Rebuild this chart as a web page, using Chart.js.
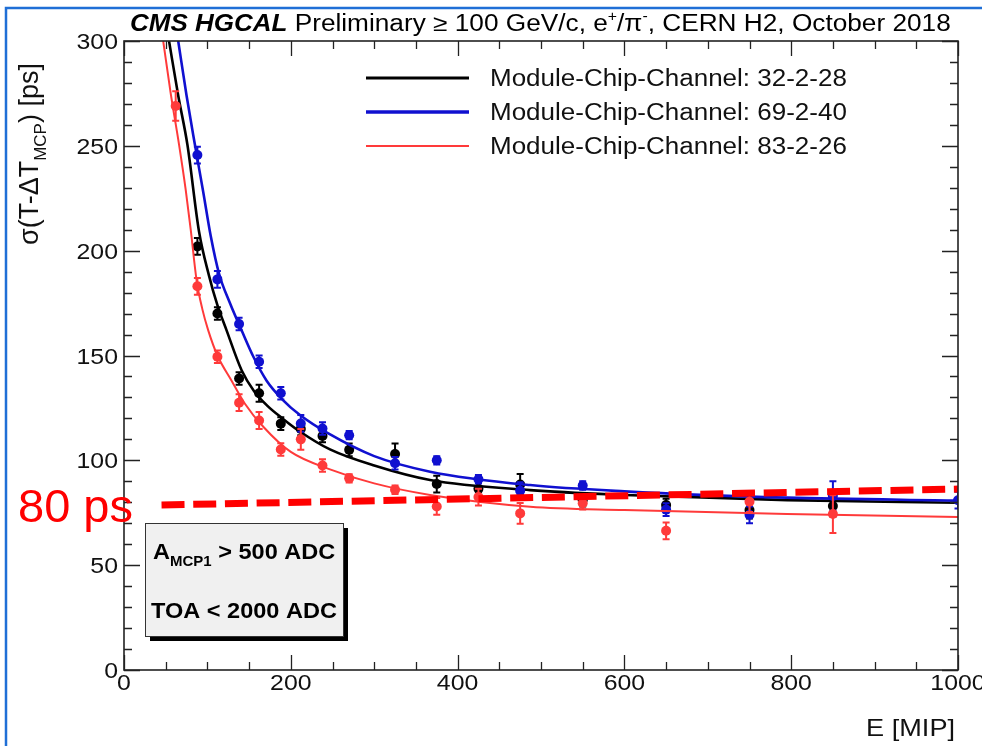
<!DOCTYPE html>
<html>
<head>
<meta charset="utf-8">
<script src="https://cdn.jsdelivr.net/npm/chart.js@4/dist/chart.umd.min.js"></script>
<style>
  html, body { margin: 0; padding: 0; background: #ffffff; overflow: hidden; }
  #wrap { width: 982px; height: 746px; position: relative; }
</style>
</head>
<body>
<div id="wrap"><canvas id="c" width="982" height="746"></canvas></div>
<script>
// Beam energy bins [MIP]
const energies = [62, 88, 112, 138, 162, 188, 212, 238, 270, 325, 375, 425, 475, 550, 650, 750, 850, 1000];

// Measured time resolution [ps] and uncertainties per channel
const sigma32_2_28 = [null, 202, 170, 139, 132, 117.5, 115, 111.6, 105, 103, 88.7, 86.4, 88.5, 81, 78.7, 76.3, 78.2, null];
const err32_2_28   = [null, 4, 3, 3, 4, 3, 3, 3, 3, 5, 4, 3, 5, 3, 3, 4, 5, null];
const sigma69_2_40 = [null, 245.6, 186.3, 165, 147, 132, 117.6, 115.2, 112, 98.6, 100, 91, 85.5, 88, 76.5, 74, 83, 81];
const err69_2_40   = [null, 4, 4, 3, 3, 3, 4, 3, 2, 3, 2, 2, 4, 2, 3, 4, 7, 4];
const sigma83_2_26 = [269, 183, 149.4, 127.5, 119, 105.2, 110, 97.5, 91.4, 86, 78, 82.5, 74.7, 79.5, 66.4, 80.3, 74.4, null];
const err83_2_26   = [7, 4, 3, 4, 4, 3, 5, 3, 2, 2, 4, 4, 5, 3, 4, 5, 9, null];

// Fitted resolution curves, sampled along E [MIP]
const fitE_32_2_28 = [54, 65, 76, 90, 102, 112, 123, 141, 156, 172, 190, 210, 247, 300, 367, 487, 600, 795, 1000];
const fit_32_2_28  = [300, 274, 250.6, 209, 188, 174, 162, 143, 133, 126, 120, 114, 105.2, 97.5, 90.6, 85.8, 83.5, 81, 79.8];
const fitE_69_2_40 = [65, 75, 85, 95, 104, 114, 127, 141, 155, 171, 190, 211, 245, 300, 367, 487, 600, 795, 1000];
const fit_69_2_40  = [300, 274, 250.6, 228, 207, 189, 175, 162, 149.5, 138, 129, 121.6, 112.8, 102, 94.6, 88.2, 85.2, 82.2, 80.8];
const fitE_83_2_26 = [47, 56, 66, 74, 80, 87, 94, 101, 112, 129, 145, 167, 200, 247, 300, 367, 487, 600, 795, 1000];
const fit_83_2_26  = [300, 275, 250.6, 229, 210, 186, 172, 162, 150, 138, 127, 116, 104, 95.7, 89, 83.5, 77.9, 76.3, 74.4, 73];

// Reference line marking the ~80 ps level
const refLineE = [45, 1000];
const refLinePs = [78.7, 86.3];

// Axis ticks
const xTickValues = [0, 200, 400, 600, 800, 1000];
const xTickLabels = ['0', '200', '400', '600', '800', '1000'];
const yTickValues = [0, 50, 100, 150, 200, 250, 300];
const yTickLabels = ['0', '50', '100', '150', '200', '250', '300'];

const legendLabels = ['Module-Chip-Channel: 32-2-28', 'Module-Chip-Channel: 69-2-40', 'Module-Chip-Channel: 83-2-26'];

const FONT = "'Liberation Sans', Arial, Helvetica, sans-serif";
const COL_BLACK = '#000000';
const COL_BLUE = '#1010d0';
const COL_RED = '#ff3a3a';

function pts(xs, ys) {
  const out = [];
  xs.forEach((x, i) => { if (ys[i] !== null && ys[i] !== undefined) out.push({ x: x, y: ys[i] }); });
  return out;
}
function errs(ys, es) {
  const out = [];
  ys.forEach((y, i) => { if (y !== null && y !== undefined) out.push(es[i]); });
  return out;
}

// draw a text run with optional horizontal stretch; returns advance width
function run(ctx, s, x, y, font, color, align, sx) {
  sx = sx || 1;
  ctx.save();
  ctx.font = font;
  ctx.fillStyle = color;
  ctx.textBaseline = 'alphabetic';
  ctx.textAlign = 'left';
  const w = ctx.measureText(s).width * sx;
  let x0 = x;
  if (align === 'center') x0 = x - w / 2;
  else if (align === 'right') x0 = x - w;
  ctx.translate(x0, y);
  ctx.scale(sx, 1);
  ctx.fillText(s, 0, 0);
  ctx.restore();
  return w;
}

const rootStyle = {
  id: 'rootStyle',
  beforeDatasetDraw(chart, args) {
    const ds = chart.data.datasets[args.index];
    if (!ds.errors) return;
    const ctx = chart.ctx, xs = chart.scales.x, ys = chart.scales.y, a = chart.chartArea;
    ctx.save();
    ctx.beginPath();
    ctx.rect(a.left, a.top, a.right - a.left, a.bottom - a.top);
    ctx.clip();
    ctx.strokeStyle = ds.pointBackgroundColor;
    ctx.lineWidth = 2;
    ds.data.forEach((p, i) => {
      const e = ds.errors[i];
      const px = xs.getPixelForValue(p.x);
      const y1 = ys.getPixelForValue(p.y - e);
      const y2 = ys.getPixelForValue(p.y + e);
      ctx.beginPath();
      ctx.moveTo(px, y1); ctx.lineTo(px, y2);
      ctx.moveTo(px - 3.5, y1); ctx.lineTo(px + 3.5, y1);
      ctx.moveTo(px - 3.5, y2); ctx.lineTo(px + 3.5, y2);
      ctx.stroke();
    });
    ctx.restore();
  },
  beforeDatasetsDraw(chart) {
    const ctx = chart.ctx;
    // cut box
    const bx = 145, by = 523, bw = 198, bh = 113;
    ctx.save();
    ctx.fillStyle = '#000';
    ctx.fillRect(bx + 5, by + 5, bw, bh);
    ctx.fillStyle = '#f0f0f0';
    ctx.fillRect(bx, by, bw, bh);
    ctx.strokeStyle = '#333';
    ctx.lineWidth = 1;
    ctx.strokeRect(bx + 0.5, by + 0.5, bw, bh);
    ctx.restore();
    const bf = 'bold 22px ' + FONT, sf = 'bold 14px ' + FONT;
    let x = 153;
    x += run(ctx, 'A', x, 559, bf, '#000', 'left', 1.07);
    x += run(ctx, 'MCP1', x, 566, sf, '#000', 'left', 1.07);
    run(ctx, ' > 500 ADC', x, 559, bf, '#000', 'left', 1.07);
    run(ctx, 'TOA < 2000 ADC', 244, 618, bf, '#000', 'center', 1.07);
  },
  afterDraw(chart) {
    const ctx = chart.ctx, xs = chart.scales.x, ys = chart.scales.y, a = chart.chartArea;
    ctx.save();
    // frame
    ctx.strokeStyle = '#222';
    ctx.lineWidth = 1.6;
    ctx.strokeRect(a.left, a.top, a.right - a.left, a.bottom - a.top);
    ctx.beginPath();
    for (let v = 0; v <= 1000; v += 50) {
      const px = Math.round(xs.getPixelForValue(v)) + 0.5;
      const len = (v % 200 === 0) ? 15 : 8;
      ctx.moveTo(px, a.bottom); ctx.lineTo(px, a.bottom - len);
      ctx.moveTo(px, a.top); ctx.lineTo(px, a.top + len);
    }
    for (let v = 0; v <= 300; v += 10) {
      const py = Math.round(ys.getPixelForValue(v)) + 0.5;
      const len = (v % 50 === 0) ? 16 : 8;
      ctx.moveTo(a.left, py); ctx.lineTo(a.left + len, py);
      ctx.moveTo(a.right, py); ctx.lineTo(a.right - len, py);
    }
    ctx.lineWidth = 1.3;
    ctx.stroke();
    ctx.restore();

    const tf = '22px ' + FONT;
    xTickValues.forEach((v, i) => run(ctx, xTickLabels[i], xs.getPixelForValue(v), 690, tf, '#111', 'center', 1.13));
    yTickValues.forEach((v, i) => run(ctx, yTickLabels[i], 118, ys.getPixelForValue(v) + 8, tf, '#111', 'right', 1.13));

    // x axis title
    run(ctx, 'E [MIP]', 955, 736, '24px ' + FONT, '#111', 'right', 1.13);

    // y axis title (rotated)
    ctx.save();
    ctx.translate(38, 245);
    ctx.rotate(-Math.PI / 2);
    let yx = 0;
    yx += run(ctx, 'σ(T-ΔT', yx, 0, '27px ' + FONT, '#111', 'left', 1);
    yx += run(ctx, 'MCP', yx, 8, '17px ' + FONT, '#111', 'left', 1);
    run(ctx, ') [ps]', yx, 0, '27px ' + FONT, '#111', 'left', 1);
    ctx.restore();

    // header
    let hx = 130;
    const hf = '23px ' + FONT;
    hx += run(ctx, 'CMS HGCAL', hx, 31, 'italic bold 23px ' + FONT, '#000', 'left', 1.13);
    hx += run(ctx, ' Preliminary ≥ 100 GeV/c, e', hx, 31, hf, '#000', 'left', 1.14);
    hx += run(ctx, '+', hx, 21, '14px ' + FONT, '#000', 'left', 1.13);
    hx += run(ctx, '/π', hx, 31, hf, '#000', 'left', 1.14);
    hx += run(ctx, '-', hx, 21, '14px ' + FONT, '#000', 'left', 1.13);
    run(ctx, ', CERN H2, October 2018', hx, 31, hf, '#000', 'left', 1.14);

    // legend
    const lcol = [COL_BLACK, COL_BLUE, COL_RED];
    const lw = [3, 3.5, 2];
    [78, 112, 146].forEach((ly, i) => {
      ctx.save();
      ctx.strokeStyle = lcol[i];
      ctx.lineWidth = lw[i];
      ctx.beginPath();
      ctx.moveTo(366, ly); ctx.lineTo(469, ly);
      ctx.stroke();
      ctx.restore();
      run(ctx, legendLabels[i], 490, ly + 8, '23px ' + FONT, '#111', 'left', 1.13);
    });

    // 80 ps label
    run(ctx, '80 ps', 18, 522, '47px ' + FONT, '#ff0000', 'left', 1);

    // page border
    ctx.save();
    ctx.strokeStyle = '#1f6fd6';
    ctx.lineWidth = 2.5;
    ctx.beginPath();
    ctx.moveTo(6, 746); ctx.lineTo(6, 8); ctx.lineTo(982, 8);
    ctx.stroke();
    ctx.restore();
  }
};

const ptsBlack = pts(energies, sigma32_2_28);
const ptsBlue = pts(energies, sigma69_2_40);
const ptsRed = pts(energies, sigma83_2_26);

new Chart(document.getElementById('c').getContext('2d'), {
  type: 'line',
  data: {
    datasets: [
      { label: 'ref', data: pts(refLineE, refLinePs), borderColor: '#ff0000', borderWidth: 7,
        borderDash: [23, 8.7], borderCapStyle: 'butt', pointRadius: 0, order: 0 },
      { label: legendLabels[2] + ' data', data: ptsRed, errors: errs(sigma83_2_26, err83_2_26), showLine: false,
        pointRadius: 5, pointBackgroundColor: COL_RED, pointBorderColor: COL_RED, pointBorderWidth: 0, order: 1 },
      { label: legendLabels[2], data: pts(fitE_83_2_26, fit_83_2_26), borderColor: COL_RED, borderWidth: 2,
        cubicInterpolationMode: 'monotone', pointRadius: 0, order: 2 },
      { label: legendLabels[1] + ' data', data: ptsBlue, errors: errs(sigma69_2_40, err69_2_40), showLine: false,
        pointRadius: 5, pointBackgroundColor: COL_BLUE, pointBorderColor: COL_BLUE, pointBorderWidth: 0, order: 3 },
      { label: legendLabels[1], data: pts(fitE_69_2_40, fit_69_2_40), borderColor: COL_BLUE, borderWidth: 2.6,
        cubicInterpolationMode: 'monotone', pointRadius: 0, order: 4 },
      { label: legendLabels[0] + ' data', data: ptsBlack, errors: errs(sigma32_2_28, err32_2_28), showLine: false,
        pointRadius: 5, pointBackgroundColor: COL_BLACK, pointBorderColor: COL_BLACK, pointBorderWidth: 0, order: 5 },
      { label: legendLabels[0], data: pts(fitE_32_2_28, fit_32_2_28), borderColor: COL_BLACK, borderWidth: 2.6,
        cubicInterpolationMode: 'monotone', pointRadius: 0, order: 6 }
    ]
  },
  options: {
    responsive: false,
    animation: false,
    devicePixelRatio: 1,
    layout: { padding: { left: 124, top: 41, right: 24, bottom: 76 } },
    scales: {
      x: { type: 'linear', min: 0, max: 1000, display: false },
      y: { type: 'linear', min: 0, max: 300, display: false }
    },
    plugins: { legend: { display: false }, tooltip: { enabled: false } }
  },
  plugins: [rootStyle]
});
</script>
</body>
</html>
